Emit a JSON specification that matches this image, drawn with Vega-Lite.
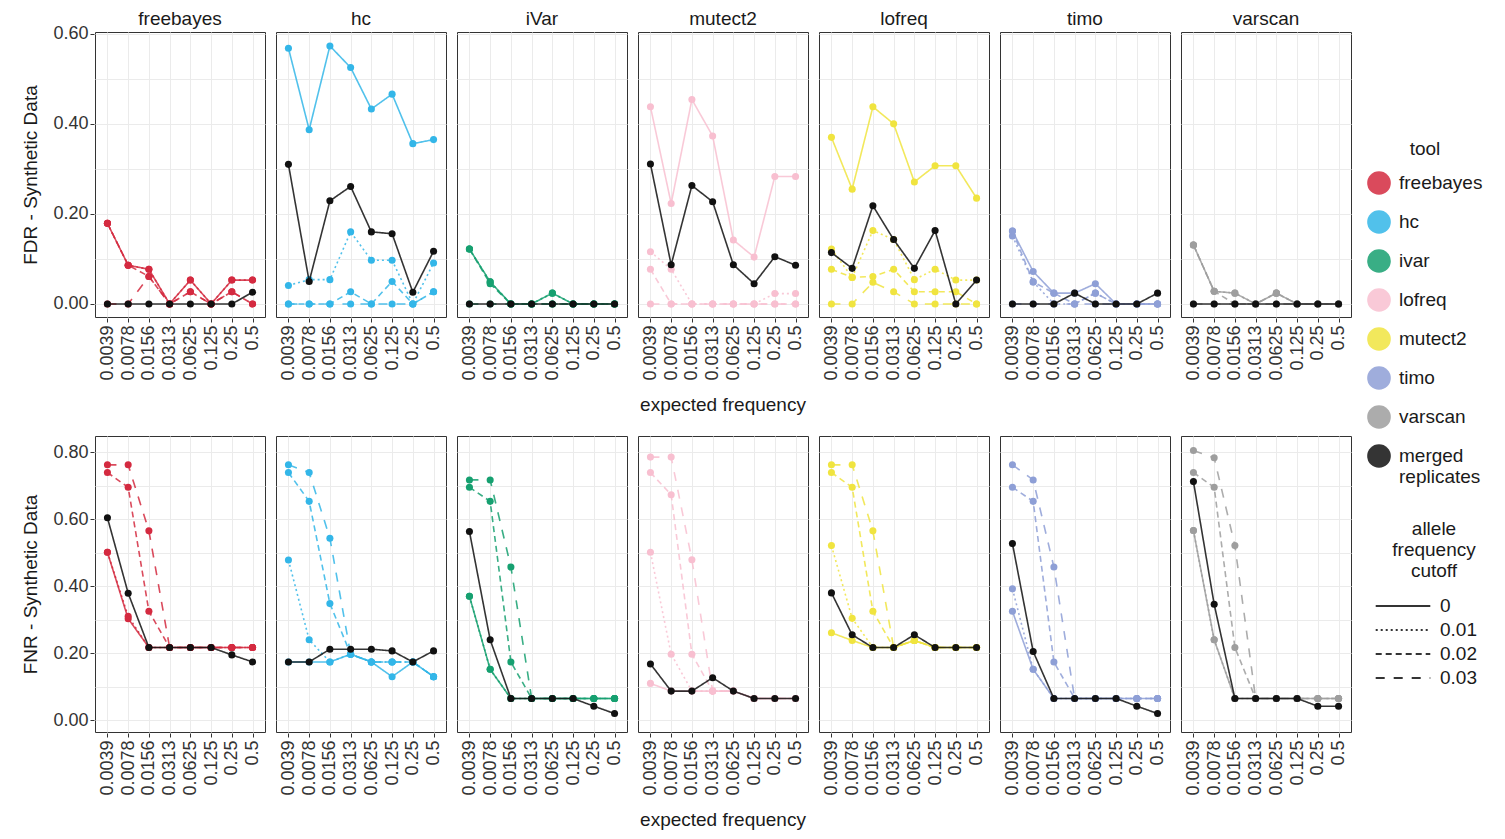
{
"$schema": "https://vega.github.io/schema/vega-lite/v6.json",
"padding": {"left": 21, "top": 10, "right": 5, "bottom": 5},
"background": "white",
"config": {
  "font": "Liberation Sans",
  "view": {"stroke": "#333333", "strokeWidth": 1},
  "axis": {"grid": true, "gridColor": "#ebebeb", "gridWidth": 1, "domain": false, "labelFontSize": 18, "labelColor": "#333333", "titleFontSize": 19, "titleFontWeight": "normal", "titleColor": "#1a1a1a", "tickColor": "#333333", "tickSize": 4},
  "header": {"labelFontSize": 19, "labelColor": "#1a1a1a", "titleFontSize": 19, "titleFontWeight": "normal", "titleColor": "#1a1a1a"},
  "legend": {"labelFontSize": 19, "titleFontSize": 19, "titleFontWeight": "normal", "labelColor": "#1a1a1a", "titleColor": "#1a1a1a", "titleAnchor": "middle", "titleAlign": "center"}
},
"datasets": {
"fdr": [
{"p":"freebayes","t":"freebayes","c":"0","f":"0.0039","v":0.179},{"p":"freebayes","t":"freebayes","c":"0","f":"0.0078","v":0.086},{"p":"freebayes","t":"freebayes","c":"0","f":"0.0156","v":0.077},{"p":"freebayes","t":"freebayes","c":"0","f":"0.0313","v":0},{"p":"freebayes","t":"freebayes","c":"0","f":"0.0625","v":0.053},{"p":"freebayes","t":"freebayes","c":"0","f":"0.125","v":0},{"p":"freebayes","t":"freebayes","c":"0","f":"0.25","v":0.053},{"p":"freebayes","t":"freebayes","c":"0","f":"0.5","v":0.053},
{"p":"freebayes","t":"freebayes","c":"0.01","f":"0.0039","v":0.179},{"p":"freebayes","t":"freebayes","c":"0.01","f":"0.0078","v":0.086},{"p":"freebayes","t":"freebayes","c":"0.01","f":"0.0156","v":0.077},{"p":"freebayes","t":"freebayes","c":"0.01","f":"0.0313","v":0},{"p":"freebayes","t":"freebayes","c":"0.01","f":"0.0625","v":0.053},{"p":"freebayes","t":"freebayes","c":"0.01","f":"0.125","v":0},{"p":"freebayes","t":"freebayes","c":"0.01","f":"0.25","v":0.053},{"p":"freebayes","t":"freebayes","c":"0.01","f":"0.5","v":0.053},
{"p":"freebayes","t":"freebayes","c":"0.02","f":"0.0039","v":0.179},{"p":"freebayes","t":"freebayes","c":"0.02","f":"0.0078","v":0.086},{"p":"freebayes","t":"freebayes","c":"0.02","f":"0.0156","v":0.061},{"p":"freebayes","t":"freebayes","c":"0.02","f":"0.0313","v":0},{"p":"freebayes","t":"freebayes","c":"0.02","f":"0.0625","v":0.027},{"p":"freebayes","t":"freebayes","c":"0.02","f":"0.125","v":0},{"p":"freebayes","t":"freebayes","c":"0.02","f":"0.25","v":0.027},{"p":"freebayes","t":"freebayes","c":"0.02","f":"0.5","v":0},
{"p":"freebayes","t":"freebayes","c":"0.03","f":"0.0039","v":0},{"p":"freebayes","t":"freebayes","c":"0.03","f":"0.0078","v":0},{"p":"freebayes","t":"freebayes","c":"0.03","f":"0.0156","v":0.061},{"p":"freebayes","t":"freebayes","c":"0.03","f":"0.0313","v":0},{"p":"freebayes","t":"freebayes","c":"0.03","f":"0.0625","v":0.027},{"p":"freebayes","t":"freebayes","c":"0.03","f":"0.125","v":0},{"p":"freebayes","t":"freebayes","c":"0.03","f":"0.25","v":0.027},{"p":"freebayes","t":"freebayes","c":"0.03","f":"0.5","v":0},
{"p":"freebayes","t":"merged replicates","c":"0","f":"0.0039","v":0},{"p":"freebayes","t":"merged replicates","c":"0","f":"0.0078","v":0},{"p":"freebayes","t":"merged replicates","c":"0","f":"0.0156","v":0},{"p":"freebayes","t":"merged replicates","c":"0","f":"0.0313","v":0},{"p":"freebayes","t":"merged replicates","c":"0","f":"0.0625","v":0},{"p":"freebayes","t":"merged replicates","c":"0","f":"0.125","v":0},{"p":"freebayes","t":"merged replicates","c":"0","f":"0.25","v":0},{"p":"freebayes","t":"merged replicates","c":"0","f":"0.5","v":0.026},

{"p":"hc","t":"hc","c":"0","f":"0.0039","v":0.568},{"p":"hc","t":"hc","c":"0","f":"0.0078","v":0.387},{"p":"hc","t":"hc","c":"0","f":"0.0156","v":0.573},{"p":"hc","t":"hc","c":"0","f":"0.0313","v":0.525},{"p":"hc","t":"hc","c":"0","f":"0.0625","v":0.433},{"p":"hc","t":"hc","c":"0","f":"0.125","v":0.466},{"p":"hc","t":"hc","c":"0","f":"0.25","v":0.356},{"p":"hc","t":"hc","c":"0","f":"0.5","v":0.365},
{"p":"hc","t":"hc","c":"0.01","f":"0.0039","v":0.041},{"p":"hc","t":"hc","c":"0.01","f":"0.0078","v":0.054},{"p":"hc","t":"hc","c":"0.01","f":"0.0156","v":0.054},{"p":"hc","t":"hc","c":"0.01","f":"0.0313","v":0.16},{"p":"hc","t":"hc","c":"0.01","f":"0.0625","v":0.097},{"p":"hc","t":"hc","c":"0.01","f":"0.125","v":0.097},{"p":"hc","t":"hc","c":"0.01","f":"0.25","v":0},{"p":"hc","t":"hc","c":"0.01","f":"0.5","v":0.091},
{"p":"hc","t":"hc","c":"0.02","f":"0.0039","v":0},{"p":"hc","t":"hc","c":"0.02","f":"0.0078","v":0},{"p":"hc","t":"hc","c":"0.02","f":"0.0156","v":0},{"p":"hc","t":"hc","c":"0.02","f":"0.0313","v":0.027},{"p":"hc","t":"hc","c":"0.02","f":"0.0625","v":0},{"p":"hc","t":"hc","c":"0.02","f":"0.125","v":0.05},{"p":"hc","t":"hc","c":"0.02","f":"0.25","v":0},{"p":"hc","t":"hc","c":"0.02","f":"0.5","v":0.027},
{"p":"hc","t":"hc","c":"0.03","f":"0.0039","v":0},{"p":"hc","t":"hc","c":"0.03","f":"0.0078","v":0},{"p":"hc","t":"hc","c":"0.03","f":"0.0156","v":0},{"p":"hc","t":"hc","c":"0.03","f":"0.0313","v":0},{"p":"hc","t":"hc","c":"0.03","f":"0.0625","v":0},{"p":"hc","t":"hc","c":"0.03","f":"0.125","v":0},{"p":"hc","t":"hc","c":"0.03","f":"0.25","v":0},{"p":"hc","t":"hc","c":"0.03","f":"0.5","v":0.027},
{"p":"hc","t":"merged replicates","c":"0","f":"0.0039","v":0.31},{"p":"hc","t":"merged replicates","c":"0","f":"0.0078","v":0.05},{"p":"hc","t":"merged replicates","c":"0","f":"0.0156","v":0.229},{"p":"hc","t":"merged replicates","c":"0","f":"0.0313","v":0.261},{"p":"hc","t":"merged replicates","c":"0","f":"0.0625","v":0.16},{"p":"hc","t":"merged replicates","c":"0","f":"0.125","v":0.156},{"p":"hc","t":"merged replicates","c":"0","f":"0.25","v":0.026},{"p":"hc","t":"merged replicates","c":"0","f":"0.5","v":0.117},

{"p":"iVar","t":"ivar","c":"0","f":"0.0039","v":0.122},{"p":"iVar","t":"ivar","c":"0","f":"0.0078","v":0.049},{"p":"iVar","t":"ivar","c":"0","f":"0.0156","v":0},{"p":"iVar","t":"ivar","c":"0","f":"0.0313","v":0},{"p":"iVar","t":"ivar","c":"0","f":"0.0625","v":0.024},{"p":"iVar","t":"ivar","c":"0","f":"0.125","v":0},{"p":"iVar","t":"ivar","c":"0","f":"0.25","v":0},{"p":"iVar","t":"ivar","c":"0","f":"0.5","v":0},
{"p":"iVar","t":"ivar","c":"0.01","f":"0.0039","v":0.122},{"p":"iVar","t":"ivar","c":"0.01","f":"0.0078","v":0.049},{"p":"iVar","t":"ivar","c":"0.01","f":"0.0156","v":0},{"p":"iVar","t":"ivar","c":"0.01","f":"0.0313","v":0},{"p":"iVar","t":"ivar","c":"0.01","f":"0.0625","v":0.024},{"p":"iVar","t":"ivar","c":"0.01","f":"0.125","v":0},{"p":"iVar","t":"ivar","c":"0.01","f":"0.25","v":0},{"p":"iVar","t":"ivar","c":"0.01","f":"0.5","v":0},
{"p":"iVar","t":"ivar","c":"0.02","f":"0.0039","v":0.122},{"p":"iVar","t":"ivar","c":"0.02","f":"0.0078","v":0.045},{"p":"iVar","t":"ivar","c":"0.02","f":"0.0156","v":0},{"p":"iVar","t":"ivar","c":"0.02","f":"0.0313","v":0},{"p":"iVar","t":"ivar","c":"0.02","f":"0.0625","v":0},{"p":"iVar","t":"ivar","c":"0.02","f":"0.125","v":0},{"p":"iVar","t":"ivar","c":"0.02","f":"0.25","v":0},{"p":"iVar","t":"ivar","c":"0.02","f":"0.5","v":0},
{"p":"iVar","t":"ivar","c":"0.03","f":"0.0039","v":0},{"p":"iVar","t":"ivar","c":"0.03","f":"0.0078","v":0},{"p":"iVar","t":"ivar","c":"0.03","f":"0.0156","v":0},{"p":"iVar","t":"ivar","c":"0.03","f":"0.0313","v":0},{"p":"iVar","t":"ivar","c":"0.03","f":"0.0625","v":0},{"p":"iVar","t":"ivar","c":"0.03","f":"0.125","v":0},{"p":"iVar","t":"ivar","c":"0.03","f":"0.25","v":0},{"p":"iVar","t":"ivar","c":"0.03","f":"0.5","v":0},
{"p":"iVar","t":"merged replicates","c":"0","f":"0.0039","v":0},{"p":"iVar","t":"merged replicates","c":"0","f":"0.0078","v":0},{"p":"iVar","t":"merged replicates","c":"0","f":"0.0156","v":0},{"p":"iVar","t":"merged replicates","c":"0","f":"0.0313","v":0},{"p":"iVar","t":"merged replicates","c":"0","f":"0.0625","v":0},{"p":"iVar","t":"merged replicates","c":"0","f":"0.125","v":0},{"p":"iVar","t":"merged replicates","c":"0","f":"0.25","v":0},{"p":"iVar","t":"merged replicates","c":"0","f":"0.5","v":0},

{"p":"mutect2","t":"lofreq","c":"0","f":"0.0039","v":0.438},{"p":"mutect2","t":"lofreq","c":"0","f":"0.0078","v":0.223},{"p":"mutect2","t":"lofreq","c":"0","f":"0.0156","v":0.454},{"p":"mutect2","t":"lofreq","c":"0","f":"0.0313","v":0.373},{"p":"mutect2","t":"lofreq","c":"0","f":"0.0625","v":0.142},{"p":"mutect2","t":"lofreq","c":"0","f":"0.125","v":0.104},{"p":"mutect2","t":"lofreq","c":"0","f":"0.25","v":0.283},{"p":"mutect2","t":"lofreq","c":"0","f":"0.5","v":0.283},
{"p":"mutect2","t":"lofreq","c":"0.01","f":"0.0039","v":0.116},{"p":"mutect2","t":"lofreq","c":"0.01","f":"0.0078","v":0.077},{"p":"mutect2","t":"lofreq","c":"0.01","f":"0.0156","v":0},{"p":"mutect2","t":"lofreq","c":"0.01","f":"0.0313","v":0},{"p":"mutect2","t":"lofreq","c":"0.01","f":"0.0625","v":0},{"p":"mutect2","t":"lofreq","c":"0.01","f":"0.125","v":0},{"p":"mutect2","t":"lofreq","c":"0.01","f":"0.25","v":0.023},{"p":"mutect2","t":"lofreq","c":"0.01","f":"0.5","v":0.023},
{"p":"mutect2","t":"lofreq","c":"0.02","f":"0.0039","v":0.077},{"p":"mutect2","t":"lofreq","c":"0.02","f":"0.0078","v":0},{"p":"mutect2","t":"lofreq","c":"0.02","f":"0.0156","v":0},{"p":"mutect2","t":"lofreq","c":"0.02","f":"0.0313","v":0},{"p":"mutect2","t":"lofreq","c":"0.02","f":"0.0625","v":0},{"p":"mutect2","t":"lofreq","c":"0.02","f":"0.125","v":0},{"p":"mutect2","t":"lofreq","c":"0.02","f":"0.25","v":0},{"p":"mutect2","t":"lofreq","c":"0.02","f":"0.5","v":0},
{"p":"mutect2","t":"lofreq","c":"0.03","f":"0.0039","v":0},{"p":"mutect2","t":"lofreq","c":"0.03","f":"0.0078","v":0},{"p":"mutect2","t":"lofreq","c":"0.03","f":"0.0156","v":0},{"p":"mutect2","t":"lofreq","c":"0.03","f":"0.0313","v":0},{"p":"mutect2","t":"lofreq","c":"0.03","f":"0.0625","v":0},{"p":"mutect2","t":"lofreq","c":"0.03","f":"0.125","v":0},{"p":"mutect2","t":"lofreq","c":"0.03","f":"0.25","v":0},{"p":"mutect2","t":"lofreq","c":"0.03","f":"0.5","v":0},
{"p":"mutect2","t":"merged replicates","c":"0","f":"0.0039","v":0.311},{"p":"mutect2","t":"merged replicates","c":"0","f":"0.0078","v":0.087},{"p":"mutect2","t":"merged replicates","c":"0","f":"0.0156","v":0.263},{"p":"mutect2","t":"merged replicates","c":"0","f":"0.0313","v":0.227},{"p":"mutect2","t":"merged replicates","c":"0","f":"0.0625","v":0.087},{"p":"mutect2","t":"merged replicates","c":"0","f":"0.125","v":0.045},{"p":"mutect2","t":"merged replicates","c":"0","f":"0.25","v":0.105},{"p":"mutect2","t":"merged replicates","c":"0","f":"0.5","v":0.086},

{"p":"lofreq","t":"mutect2","c":"0","f":"0.0039","v":0.37},{"p":"lofreq","t":"mutect2","c":"0","f":"0.0078","v":0.255},{"p":"lofreq","t":"mutect2","c":"0","f":"0.0156","v":0.438},{"p":"lofreq","t":"mutect2","c":"0","f":"0.0313","v":0.4},{"p":"lofreq","t":"mutect2","c":"0","f":"0.0625","v":0.271},{"p":"lofreq","t":"mutect2","c":"0","f":"0.125","v":0.307},{"p":"lofreq","t":"mutect2","c":"0","f":"0.25","v":0.307},{"p":"lofreq","t":"mutect2","c":"0","f":"0.5","v":0.235},
{"p":"lofreq","t":"mutect2","c":"0.01","f":"0.0039","v":0.122},{"p":"lofreq","t":"mutect2","c":"0.01","f":"0.0078","v":0.059},{"p":"lofreq","t":"mutect2","c":"0.01","f":"0.0156","v":0.163},{"p":"lofreq","t":"mutect2","c":"0.01","f":"0.0313","v":0.143},{"p":"lofreq","t":"mutect2","c":"0.01","f":"0.0625","v":0.054},{"p":"lofreq","t":"mutect2","c":"0.01","f":"0.125","v":0.077},{"p":"lofreq","t":"mutect2","c":"0.01","f":"0.25","v":0.053},{"p":"lofreq","t":"mutect2","c":"0.01","f":"0.5","v":0.053},
{"p":"lofreq","t":"mutect2","c":"0.02","f":"0.0039","v":0.077},{"p":"lofreq","t":"mutect2","c":"0.02","f":"0.0078","v":0.059},{"p":"lofreq","t":"mutect2","c":"0.02","f":"0.0156","v":0.061},{"p":"lofreq","t":"mutect2","c":"0.02","f":"0.0313","v":0.077},{"p":"lofreq","t":"mutect2","c":"0.02","f":"0.0625","v":0.027},{"p":"lofreq","t":"mutect2","c":"0.02","f":"0.125","v":0.027},{"p":"lofreq","t":"mutect2","c":"0.02","f":"0.25","v":0.027},{"p":"lofreq","t":"mutect2","c":"0.02","f":"0.5","v":0},
{"p":"lofreq","t":"mutect2","c":"0.03","f":"0.0039","v":0},{"p":"lofreq","t":"mutect2","c":"0.03","f":"0.0078","v":0},{"p":"lofreq","t":"mutect2","c":"0.03","f":"0.0156","v":0.048},{"p":"lofreq","t":"mutect2","c":"0.03","f":"0.0313","v":0.027},{"p":"lofreq","t":"mutect2","c":"0.03","f":"0.0625","v":0},{"p":"lofreq","t":"mutect2","c":"0.03","f":"0.125","v":0},{"p":"lofreq","t":"mutect2","c":"0.03","f":"0.25","v":0},{"p":"lofreq","t":"mutect2","c":"0.03","f":"0.5","v":0},
{"p":"lofreq","t":"merged replicates","c":"0","f":"0.0039","v":0.114},{"p":"lofreq","t":"merged replicates","c":"0","f":"0.0078","v":0.079},{"p":"lofreq","t":"merged replicates","c":"0","f":"0.0156","v":0.218},{"p":"lofreq","t":"merged replicates","c":"0","f":"0.0313","v":0.143},{"p":"lofreq","t":"merged replicates","c":"0","f":"0.0625","v":0.079},{"p":"lofreq","t":"merged replicates","c":"0","f":"0.125","v":0.163},{"p":"lofreq","t":"merged replicates","c":"0","f":"0.25","v":0},{"p":"lofreq","t":"merged replicates","c":"0","f":"0.5","v":0.053},

{"p":"timo","t":"timo","c":"0","f":"0.0039","v":0.162},{"p":"timo","t":"timo","c":"0","f":"0.0078","v":0.072},{"p":"timo","t":"timo","c":"0","f":"0.0156","v":0.024},{"p":"timo","t":"timo","c":"0","f":"0.0313","v":0.024},{"p":"timo","t":"timo","c":"0","f":"0.0625","v":0.045},{"p":"timo","t":"timo","c":"0","f":"0.125","v":0},{"p":"timo","t":"timo","c":"0","f":"0.25","v":0},{"p":"timo","t":"timo","c":"0","f":"0.5","v":0},
{"p":"timo","t":"timo","c":"0.01","f":"0.0039","v":0.151},{"p":"timo","t":"timo","c":"0.01","f":"0.0078","v":0.049},{"p":"timo","t":"timo","c":"0.01","f":"0.0156","v":0},{"p":"timo","t":"timo","c":"0.01","f":"0.0313","v":0},{"p":"timo","t":"timo","c":"0.01","f":"0.0625","v":0.024},{"p":"timo","t":"timo","c":"0.01","f":"0.125","v":0},{"p":"timo","t":"timo","c":"0.01","f":"0.25","v":0},{"p":"timo","t":"timo","c":"0.01","f":"0.5","v":0},
{"p":"timo","t":"timo","c":"0.02","f":"0.0039","v":0.162},{"p":"timo","t":"timo","c":"0.02","f":"0.0078","v":0.049},{"p":"timo","t":"timo","c":"0.02","f":"0.0156","v":0.024},{"p":"timo","t":"timo","c":"0.02","f":"0.0313","v":0},{"p":"timo","t":"timo","c":"0.02","f":"0.0625","v":0.024},{"p":"timo","t":"timo","c":"0.02","f":"0.125","v":0},{"p":"timo","t":"timo","c":"0.02","f":"0.25","v":0},{"p":"timo","t":"timo","c":"0.02","f":"0.5","v":0},
{"p":"timo","t":"timo","c":"0.03","f":"0.0039","v":0},{"p":"timo","t":"timo","c":"0.03","f":"0.0078","v":0},{"p":"timo","t":"timo","c":"0.03","f":"0.0156","v":0},{"p":"timo","t":"timo","c":"0.03","f":"0.0313","v":0},{"p":"timo","t":"timo","c":"0.03","f":"0.0625","v":0},{"p":"timo","t":"timo","c":"0.03","f":"0.125","v":0},{"p":"timo","t":"timo","c":"0.03","f":"0.25","v":0},{"p":"timo","t":"timo","c":"0.03","f":"0.5","v":0},
{"p":"timo","t":"merged replicates","c":"0","f":"0.0039","v":0},{"p":"timo","t":"merged replicates","c":"0","f":"0.0078","v":0},{"p":"timo","t":"merged replicates","c":"0","f":"0.0156","v":0},{"p":"timo","t":"merged replicates","c":"0","f":"0.0313","v":0.024},{"p":"timo","t":"merged replicates","c":"0","f":"0.0625","v":0},{"p":"timo","t":"merged replicates","c":"0","f":"0.125","v":0},{"p":"timo","t":"merged replicates","c":"0","f":"0.25","v":0},{"p":"timo","t":"merged replicates","c":"0","f":"0.5","v":0.024},

{"p":"varscan","t":"varscan","c":"0","f":"0.0039","v":0.131},{"p":"varscan","t":"varscan","c":"0","f":"0.0078","v":0.028},{"p":"varscan","t":"varscan","c":"0","f":"0.0156","v":0.024},{"p":"varscan","t":"varscan","c":"0","f":"0.0313","v":0},{"p":"varscan","t":"varscan","c":"0","f":"0.0625","v":0.024},{"p":"varscan","t":"varscan","c":"0","f":"0.125","v":0},{"p":"varscan","t":"varscan","c":"0","f":"0.25","v":0},{"p":"varscan","t":"varscan","c":"0","f":"0.5","v":0},
{"p":"varscan","t":"varscan","c":"0.01","f":"0.0039","v":0.131},{"p":"varscan","t":"varscan","c":"0.01","f":"0.0078","v":0.028},{"p":"varscan","t":"varscan","c":"0.01","f":"0.0156","v":0.024},{"p":"varscan","t":"varscan","c":"0.01","f":"0.0313","v":0},{"p":"varscan","t":"varscan","c":"0.01","f":"0.0625","v":0.024},{"p":"varscan","t":"varscan","c":"0.01","f":"0.125","v":0},{"p":"varscan","t":"varscan","c":"0.01","f":"0.25","v":0},{"p":"varscan","t":"varscan","c":"0.01","f":"0.5","v":0},
{"p":"varscan","t":"varscan","c":"0.02","f":"0.0039","v":0.131},{"p":"varscan","t":"varscan","c":"0.02","f":"0.0078","v":0.028},{"p":"varscan","t":"varscan","c":"0.02","f":"0.0156","v":0},{"p":"varscan","t":"varscan","c":"0.02","f":"0.0313","v":0},{"p":"varscan","t":"varscan","c":"0.02","f":"0.0625","v":0.024},{"p":"varscan","t":"varscan","c":"0.02","f":"0.125","v":0},{"p":"varscan","t":"varscan","c":"0.02","f":"0.25","v":0},{"p":"varscan","t":"varscan","c":"0.02","f":"0.5","v":0},
{"p":"varscan","t":"varscan","c":"0.03","f":"0.0039","v":0},{"p":"varscan","t":"varscan","c":"0.03","f":"0.0078","v":0},{"p":"varscan","t":"varscan","c":"0.03","f":"0.0156","v":0},{"p":"varscan","t":"varscan","c":"0.03","f":"0.0313","v":0},{"p":"varscan","t":"varscan","c":"0.03","f":"0.0625","v":0},{"p":"varscan","t":"varscan","c":"0.03","f":"0.125","v":0},{"p":"varscan","t":"varscan","c":"0.03","f":"0.25","v":0},{"p":"varscan","t":"varscan","c":"0.03","f":"0.5","v":0},
{"p":"varscan","t":"merged replicates","c":"0","f":"0.0039","v":0},{"p":"varscan","t":"merged replicates","c":"0","f":"0.0078","v":0},{"p":"varscan","t":"merged replicates","c":"0","f":"0.0156","v":0},{"p":"varscan","t":"merged replicates","c":"0","f":"0.0313","v":0},{"p":"varscan","t":"merged replicates","c":"0","f":"0.0625","v":0},{"p":"varscan","t":"merged replicates","c":"0","f":"0.125","v":0},{"p":"varscan","t":"merged replicates","c":"0","f":"0.25","v":0},{"p":"varscan","t":"merged replicates","c":"0","f":"0.5","v":0}
],
"fnr": [
{"p":"freebayes","t":"freebayes","c":"0","f":"0.0039","v":0.501},{"p":"freebayes","t":"freebayes","c":"0","f":"0.0078","v":0.303},{"p":"freebayes","t":"freebayes","c":"0","f":"0.0156","v":0.217},{"p":"freebayes","t":"freebayes","c":"0","f":"0.0313","v":0.217},{"p":"freebayes","t":"freebayes","c":"0","f":"0.0625","v":0.217},{"p":"freebayes","t":"freebayes","c":"0","f":"0.125","v":0.217},{"p":"freebayes","t":"freebayes","c":"0","f":"0.25","v":0.217},{"p":"freebayes","t":"freebayes","c":"0","f":"0.5","v":0.217},
{"p":"freebayes","t":"freebayes","c":"0.01","f":"0.0039","v":0.501},{"p":"freebayes","t":"freebayes","c":"0.01","f":"0.0078","v":0.31},{"p":"freebayes","t":"freebayes","c":"0.01","f":"0.0156","v":0.217},{"p":"freebayes","t":"freebayes","c":"0.01","f":"0.0313","v":0.217},{"p":"freebayes","t":"freebayes","c":"0.01","f":"0.0625","v":0.217},{"p":"freebayes","t":"freebayes","c":"0.01","f":"0.125","v":0.217},{"p":"freebayes","t":"freebayes","c":"0.01","f":"0.25","v":0.217},{"p":"freebayes","t":"freebayes","c":"0.01","f":"0.5","v":0.217},
{"p":"freebayes","t":"freebayes","c":"0.02","f":"0.0039","v":0.739},{"p":"freebayes","t":"freebayes","c":"0.02","f":"0.0078","v":0.695},{"p":"freebayes","t":"freebayes","c":"0.02","f":"0.0156","v":0.325},{"p":"freebayes","t":"freebayes","c":"0.02","f":"0.0313","v":0.217},{"p":"freebayes","t":"freebayes","c":"0.02","f":"0.0625","v":0.217},{"p":"freebayes","t":"freebayes","c":"0.02","f":"0.125","v":0.217},{"p":"freebayes","t":"freebayes","c":"0.02","f":"0.25","v":0.217},{"p":"freebayes","t":"freebayes","c":"0.02","f":"0.5","v":0.217},
{"p":"freebayes","t":"freebayes","c":"0.03","f":"0.0039","v":0.762},{"p":"freebayes","t":"freebayes","c":"0.03","f":"0.0078","v":0.762},{"p":"freebayes","t":"freebayes","c":"0.03","f":"0.0156","v":0.565},{"p":"freebayes","t":"freebayes","c":"0.03","f":"0.0313","v":0.217},{"p":"freebayes","t":"freebayes","c":"0.03","f":"0.0625","v":0.217},{"p":"freebayes","t":"freebayes","c":"0.03","f":"0.125","v":0.217},{"p":"freebayes","t":"freebayes","c":"0.03","f":"0.25","v":0.217},{"p":"freebayes","t":"freebayes","c":"0.03","f":"0.5","v":0.217},
{"p":"freebayes","t":"merged replicates","c":"0","f":"0.0039","v":0.604},{"p":"freebayes","t":"merged replicates","c":"0","f":"0.0078","v":0.379},{"p":"freebayes","t":"merged replicates","c":"0","f":"0.0156","v":0.217},{"p":"freebayes","t":"merged replicates","c":"0","f":"0.0313","v":0.217},{"p":"freebayes","t":"merged replicates","c":"0","f":"0.0625","v":0.217},{"p":"freebayes","t":"merged replicates","c":"0","f":"0.125","v":0.217},{"p":"freebayes","t":"merged replicates","c":"0","f":"0.25","v":0.195},{"p":"freebayes","t":"merged replicates","c":"0","f":"0.5","v":0.174},

{"p":"hc","t":"hc","c":"0","f":"0.0039","v":0.174},{"p":"hc","t":"hc","c":"0","f":"0.0078","v":0.174},{"p":"hc","t":"hc","c":"0","f":"0.0156","v":0.174},{"p":"hc","t":"hc","c":"0","f":"0.0313","v":0.197},{"p":"hc","t":"hc","c":"0","f":"0.0625","v":0.174},{"p":"hc","t":"hc","c":"0","f":"0.125","v":0.13},{"p":"hc","t":"hc","c":"0","f":"0.25","v":0.174},{"p":"hc","t":"hc","c":"0","f":"0.5","v":0.13},
{"p":"hc","t":"hc","c":"0.01","f":"0.0039","v":0.478},{"p":"hc","t":"hc","c":"0.01","f":"0.0078","v":0.24},{"p":"hc","t":"hc","c":"0.01","f":"0.0156","v":0.174},{"p":"hc","t":"hc","c":"0.01","f":"0.0313","v":0.197},{"p":"hc","t":"hc","c":"0.01","f":"0.0625","v":0.174},{"p":"hc","t":"hc","c":"0.01","f":"0.125","v":0.174},{"p":"hc","t":"hc","c":"0.01","f":"0.25","v":0.174},{"p":"hc","t":"hc","c":"0.01","f":"0.5","v":0.13},
{"p":"hc","t":"hc","c":"0.02","f":"0.0039","v":0.739},{"p":"hc","t":"hc","c":"0.02","f":"0.0078","v":0.653},{"p":"hc","t":"hc","c":"0.02","f":"0.0156","v":0.348},{"p":"hc","t":"hc","c":"0.02","f":"0.0313","v":0.197},{"p":"hc","t":"hc","c":"0.02","f":"0.0625","v":0.174},{"p":"hc","t":"hc","c":"0.02","f":"0.125","v":0.174},{"p":"hc","t":"hc","c":"0.02","f":"0.25","v":0.174},{"p":"hc","t":"hc","c":"0.02","f":"0.5","v":0.13},
{"p":"hc","t":"hc","c":"0.03","f":"0.0039","v":0.762},{"p":"hc","t":"hc","c":"0.03","f":"0.0078","v":0.739},{"p":"hc","t":"hc","c":"0.03","f":"0.0156","v":0.543},{"p":"hc","t":"hc","c":"0.03","f":"0.0313","v":0.197},{"p":"hc","t":"hc","c":"0.03","f":"0.0625","v":0.174},{"p":"hc","t":"hc","c":"0.03","f":"0.125","v":0.174},{"p":"hc","t":"hc","c":"0.03","f":"0.25","v":0.174},{"p":"hc","t":"hc","c":"0.03","f":"0.5","v":0.13},
{"p":"hc","t":"merged replicates","c":"0","f":"0.0039","v":0.174},{"p":"hc","t":"merged replicates","c":"0","f":"0.0078","v":0.174},{"p":"hc","t":"merged replicates","c":"0","f":"0.0156","v":0.212},{"p":"hc","t":"merged replicates","c":"0","f":"0.0313","v":0.212},{"p":"hc","t":"merged replicates","c":"0","f":"0.0625","v":0.212},{"p":"hc","t":"merged replicates","c":"0","f":"0.125","v":0.207},{"p":"hc","t":"merged replicates","c":"0","f":"0.25","v":0.174},{"p":"hc","t":"merged replicates","c":"0","f":"0.5","v":0.207},

{"p":"iVar","t":"ivar","c":"0","f":"0.0039","v":0.37},{"p":"iVar","t":"ivar","c":"0","f":"0.0078","v":0.152},{"p":"iVar","t":"ivar","c":"0","f":"0.0156","v":0.065},{"p":"iVar","t":"ivar","c":"0","f":"0.0313","v":0.065},{"p":"iVar","t":"ivar","c":"0","f":"0.0625","v":0.065},{"p":"iVar","t":"ivar","c":"0","f":"0.125","v":0.065},{"p":"iVar","t":"ivar","c":"0","f":"0.25","v":0.065},{"p":"iVar","t":"ivar","c":"0","f":"0.5","v":0.065},
{"p":"iVar","t":"ivar","c":"0.01","f":"0.0039","v":0.37},{"p":"iVar","t":"ivar","c":"0.01","f":"0.0078","v":0.152},{"p":"iVar","t":"ivar","c":"0.01","f":"0.0156","v":0.065},{"p":"iVar","t":"ivar","c":"0.01","f":"0.0313","v":0.065},{"p":"iVar","t":"ivar","c":"0.01","f":"0.0625","v":0.065},{"p":"iVar","t":"ivar","c":"0.01","f":"0.125","v":0.065},{"p":"iVar","t":"ivar","c":"0.01","f":"0.25","v":0.065},{"p":"iVar","t":"ivar","c":"0.01","f":"0.5","v":0.065},
{"p":"iVar","t":"ivar","c":"0.02","f":"0.0039","v":0.695},{"p":"iVar","t":"ivar","c":"0.02","f":"0.0078","v":0.653},{"p":"iVar","t":"ivar","c":"0.02","f":"0.0156","v":0.174},{"p":"iVar","t":"ivar","c":"0.02","f":"0.0313","v":0.065},{"p":"iVar","t":"ivar","c":"0.02","f":"0.0625","v":0.065},{"p":"iVar","t":"ivar","c":"0.02","f":"0.125","v":0.065},{"p":"iVar","t":"ivar","c":"0.02","f":"0.25","v":0.065},{"p":"iVar","t":"ivar","c":"0.02","f":"0.5","v":0.065},
{"p":"iVar","t":"ivar","c":"0.03","f":"0.0039","v":0.717},{"p":"iVar","t":"ivar","c":"0.03","f":"0.0078","v":0.717},{"p":"iVar","t":"ivar","c":"0.03","f":"0.0156","v":0.457},{"p":"iVar","t":"ivar","c":"0.03","f":"0.0313","v":0.065},{"p":"iVar","t":"ivar","c":"0.03","f":"0.0625","v":0.065},{"p":"iVar","t":"ivar","c":"0.03","f":"0.125","v":0.065},{"p":"iVar","t":"ivar","c":"0.03","f":"0.25","v":0.065},{"p":"iVar","t":"ivar","c":"0.03","f":"0.5","v":0.065},
{"p":"iVar","t":"merged replicates","c":"0","f":"0.0039","v":0.563},{"p":"iVar","t":"merged replicates","c":"0","f":"0.0078","v":0.24},{"p":"iVar","t":"merged replicates","c":"0","f":"0.0156","v":0.065},{"p":"iVar","t":"merged replicates","c":"0","f":"0.0313","v":0.065},{"p":"iVar","t":"merged replicates","c":"0","f":"0.0625","v":0.065},{"p":"iVar","t":"merged replicates","c":"0","f":"0.125","v":0.065},{"p":"iVar","t":"merged replicates","c":"0","f":"0.25","v":0.042},{"p":"iVar","t":"merged replicates","c":"0","f":"0.5","v":0.02},

{"p":"mutect2","t":"lofreq","c":"0","f":"0.0039","v":0.11},{"p":"mutect2","t":"lofreq","c":"0","f":"0.0078","v":0.087},{"p":"mutect2","t":"lofreq","c":"0","f":"0.0156","v":0.087},{"p":"mutect2","t":"lofreq","c":"0","f":"0.0313","v":0.087},{"p":"mutect2","t":"lofreq","c":"0","f":"0.0625","v":0.087},{"p":"mutect2","t":"lofreq","c":"0","f":"0.125","v":0.065},{"p":"mutect2","t":"lofreq","c":"0","f":"0.25","v":0.065},{"p":"mutect2","t":"lofreq","c":"0","f":"0.5","v":0.065},
{"p":"mutect2","t":"lofreq","c":"0.01","f":"0.0039","v":0.501},{"p":"mutect2","t":"lofreq","c":"0.01","f":"0.0078","v":0.197},{"p":"mutect2","t":"lofreq","c":"0.01","f":"0.0156","v":0.087},{"p":"mutect2","t":"lofreq","c":"0.01","f":"0.0313","v":0.087},{"p":"mutect2","t":"lofreq","c":"0.01","f":"0.0625","v":0.087},{"p":"mutect2","t":"lofreq","c":"0.01","f":"0.125","v":0.065},{"p":"mutect2","t":"lofreq","c":"0.01","f":"0.25","v":0.065},{"p":"mutect2","t":"lofreq","c":"0.01","f":"0.5","v":0.065},
{"p":"mutect2","t":"lofreq","c":"0.02","f":"0.0039","v":0.739},{"p":"mutect2","t":"lofreq","c":"0.02","f":"0.0078","v":0.673},{"p":"mutect2","t":"lofreq","c":"0.02","f":"0.0156","v":0.197},{"p":"mutect2","t":"lofreq","c":"0.02","f":"0.0313","v":0.087},{"p":"mutect2","t":"lofreq","c":"0.02","f":"0.0625","v":0.087},{"p":"mutect2","t":"lofreq","c":"0.02","f":"0.125","v":0.065},{"p":"mutect2","t":"lofreq","c":"0.02","f":"0.25","v":0.065},{"p":"mutect2","t":"lofreq","c":"0.02","f":"0.5","v":0.065},
{"p":"mutect2","t":"lofreq","c":"0.03","f":"0.0039","v":0.785},{"p":"mutect2","t":"lofreq","c":"0.03","f":"0.0078","v":0.785},{"p":"mutect2","t":"lofreq","c":"0.03","f":"0.0156","v":0.479},{"p":"mutect2","t":"lofreq","c":"0.03","f":"0.0313","v":0.087},{"p":"mutect2","t":"lofreq","c":"0.03","f":"0.0625","v":0.087},{"p":"mutect2","t":"lofreq","c":"0.03","f":"0.125","v":0.065},{"p":"mutect2","t":"lofreq","c":"0.03","f":"0.25","v":0.065},{"p":"mutect2","t":"lofreq","c":"0.03","f":"0.5","v":0.065},
{"p":"mutect2","t":"merged replicates","c":"0","f":"0.0039","v":0.168},{"p":"mutect2","t":"merged replicates","c":"0","f":"0.0078","v":0.087},{"p":"mutect2","t":"merged replicates","c":"0","f":"0.0156","v":0.087},{"p":"mutect2","t":"merged replicates","c":"0","f":"0.0313","v":0.127},{"p":"mutect2","t":"merged replicates","c":"0","f":"0.0625","v":0.087},{"p":"mutect2","t":"merged replicates","c":"0","f":"0.125","v":0.065},{"p":"mutect2","t":"merged replicates","c":"0","f":"0.25","v":0.065},{"p":"mutect2","t":"merged replicates","c":"0","f":"0.5","v":0.065},

{"p":"lofreq","t":"mutect2","c":"0","f":"0.0039","v":0.261},{"p":"lofreq","t":"mutect2","c":"0","f":"0.0078","v":0.238},{"p":"lofreq","t":"mutect2","c":"0","f":"0.0156","v":0.217},{"p":"lofreq","t":"mutect2","c":"0","f":"0.0313","v":0.217},{"p":"lofreq","t":"mutect2","c":"0","f":"0.0625","v":0.238},{"p":"lofreq","t":"mutect2","c":"0","f":"0.125","v":0.217},{"p":"lofreq","t":"mutect2","c":"0","f":"0.25","v":0.217},{"p":"lofreq","t":"mutect2","c":"0","f":"0.5","v":0.217},
{"p":"lofreq","t":"mutect2","c":"0.01","f":"0.0039","v":0.521},{"p":"lofreq","t":"mutect2","c":"0.01","f":"0.0078","v":0.304},{"p":"lofreq","t":"mutect2","c":"0.01","f":"0.0156","v":0.217},{"p":"lofreq","t":"mutect2","c":"0.01","f":"0.0313","v":0.217},{"p":"lofreq","t":"mutect2","c":"0.01","f":"0.0625","v":0.238},{"p":"lofreq","t":"mutect2","c":"0.01","f":"0.125","v":0.217},{"p":"lofreq","t":"mutect2","c":"0.01","f":"0.25","v":0.217},{"p":"lofreq","t":"mutect2","c":"0.01","f":"0.5","v":0.217},
{"p":"lofreq","t":"mutect2","c":"0.02","f":"0.0039","v":0.739},{"p":"lofreq","t":"mutect2","c":"0.02","f":"0.0078","v":0.695},{"p":"lofreq","t":"mutect2","c":"0.02","f":"0.0156","v":0.325},{"p":"lofreq","t":"mutect2","c":"0.02","f":"0.0313","v":0.217},{"p":"lofreq","t":"mutect2","c":"0.02","f":"0.0625","v":0.238},{"p":"lofreq","t":"mutect2","c":"0.02","f":"0.125","v":0.217},{"p":"lofreq","t":"mutect2","c":"0.02","f":"0.25","v":0.217},{"p":"lofreq","t":"mutect2","c":"0.02","f":"0.5","v":0.217},
{"p":"lofreq","t":"mutect2","c":"0.03","f":"0.0039","v":0.762},{"p":"lofreq","t":"mutect2","c":"0.03","f":"0.0078","v":0.762},{"p":"lofreq","t":"mutect2","c":"0.03","f":"0.0156","v":0.565},{"p":"lofreq","t":"mutect2","c":"0.03","f":"0.0313","v":0.217},{"p":"lofreq","t":"mutect2","c":"0.03","f":"0.0625","v":0.238},{"p":"lofreq","t":"mutect2","c":"0.03","f":"0.125","v":0.217},{"p":"lofreq","t":"mutect2","c":"0.03","f":"0.25","v":0.217},{"p":"lofreq","t":"mutect2","c":"0.03","f":"0.5","v":0.217},
{"p":"lofreq","t":"merged replicates","c":"0","f":"0.0039","v":0.38},{"p":"lofreq","t":"merged replicates","c":"0","f":"0.0078","v":0.255},{"p":"lofreq","t":"merged replicates","c":"0","f":"0.0156","v":0.217},{"p":"lofreq","t":"merged replicates","c":"0","f":"0.0313","v":0.217},{"p":"lofreq","t":"merged replicates","c":"0","f":"0.0625","v":0.255},{"p":"lofreq","t":"merged replicates","c":"0","f":"0.125","v":0.217},{"p":"lofreq","t":"merged replicates","c":"0","f":"0.25","v":0.217},{"p":"lofreq","t":"merged replicates","c":"0","f":"0.5","v":0.217},

{"p":"timo","t":"timo","c":"0","f":"0.0039","v":0.325},{"p":"timo","t":"timo","c":"0","f":"0.0078","v":0.152},{"p":"timo","t":"timo","c":"0","f":"0.0156","v":0.065},{"p":"timo","t":"timo","c":"0","f":"0.0313","v":0.065},{"p":"timo","t":"timo","c":"0","f":"0.0625","v":0.065},{"p":"timo","t":"timo","c":"0","f":"0.125","v":0.065},{"p":"timo","t":"timo","c":"0","f":"0.25","v":0.065},{"p":"timo","t":"timo","c":"0","f":"0.5","v":0.065},
{"p":"timo","t":"timo","c":"0.01","f":"0.0039","v":0.392},{"p":"timo","t":"timo","c":"0.01","f":"0.0078","v":0.152},{"p":"timo","t":"timo","c":"0.01","f":"0.0156","v":0.065},{"p":"timo","t":"timo","c":"0.01","f":"0.0313","v":0.065},{"p":"timo","t":"timo","c":"0.01","f":"0.0625","v":0.065},{"p":"timo","t":"timo","c":"0.01","f":"0.125","v":0.065},{"p":"timo","t":"timo","c":"0.01","f":"0.25","v":0.065},{"p":"timo","t":"timo","c":"0.01","f":"0.5","v":0.065},
{"p":"timo","t":"timo","c":"0.02","f":"0.0039","v":0.695},{"p":"timo","t":"timo","c":"0.02","f":"0.0078","v":0.653},{"p":"timo","t":"timo","c":"0.02","f":"0.0156","v":0.174},{"p":"timo","t":"timo","c":"0.02","f":"0.0313","v":0.065},{"p":"timo","t":"timo","c":"0.02","f":"0.0625","v":0.065},{"p":"timo","t":"timo","c":"0.02","f":"0.125","v":0.065},{"p":"timo","t":"timo","c":"0.02","f":"0.25","v":0.065},{"p":"timo","t":"timo","c":"0.02","f":"0.5","v":0.065},
{"p":"timo","t":"timo","c":"0.03","f":"0.0039","v":0.762},{"p":"timo","t":"timo","c":"0.03","f":"0.0078","v":0.717},{"p":"timo","t":"timo","c":"0.03","f":"0.0156","v":0.457},{"p":"timo","t":"timo","c":"0.03","f":"0.0313","v":0.065},{"p":"timo","t":"timo","c":"0.03","f":"0.0625","v":0.065},{"p":"timo","t":"timo","c":"0.03","f":"0.125","v":0.065},{"p":"timo","t":"timo","c":"0.03","f":"0.25","v":0.065},{"p":"timo","t":"timo","c":"0.03","f":"0.5","v":0.065},
{"p":"timo","t":"merged replicates","c":"0","f":"0.0039","v":0.527},{"p":"timo","t":"merged replicates","c":"0","f":"0.0078","v":0.205},{"p":"timo","t":"merged replicates","c":"0","f":"0.0156","v":0.065},{"p":"timo","t":"merged replicates","c":"0","f":"0.0313","v":0.065},{"p":"timo","t":"merged replicates","c":"0","f":"0.0625","v":0.065},{"p":"timo","t":"merged replicates","c":"0","f":"0.125","v":0.065},{"p":"timo","t":"merged replicates","c":"0","f":"0.25","v":0.042},{"p":"timo","t":"merged replicates","c":"0","f":"0.5","v":0.02},

{"p":"varscan","t":"varscan","c":"0","f":"0.0039","v":0.566},{"p":"varscan","t":"varscan","c":"0","f":"0.0078","v":0.24},{"p":"varscan","t":"varscan","c":"0","f":"0.0156","v":0.065},{"p":"varscan","t":"varscan","c":"0","f":"0.0313","v":0.065},{"p":"varscan","t":"varscan","c":"0","f":"0.0625","v":0.065},{"p":"varscan","t":"varscan","c":"0","f":"0.125","v":0.065},{"p":"varscan","t":"varscan","c":"0","f":"0.25","v":0.065},{"p":"varscan","t":"varscan","c":"0","f":"0.5","v":0.065},
{"p":"varscan","t":"varscan","c":"0.01","f":"0.0039","v":0.566},{"p":"varscan","t":"varscan","c":"0.01","f":"0.0078","v":0.24},{"p":"varscan","t":"varscan","c":"0.01","f":"0.0156","v":0.065},{"p":"varscan","t":"varscan","c":"0.01","f":"0.0313","v":0.065},{"p":"varscan","t":"varscan","c":"0.01","f":"0.0625","v":0.065},{"p":"varscan","t":"varscan","c":"0.01","f":"0.125","v":0.065},{"p":"varscan","t":"varscan","c":"0.01","f":"0.25","v":0.065},{"p":"varscan","t":"varscan","c":"0.01","f":"0.5","v":0.065},
{"p":"varscan","t":"varscan","c":"0.02","f":"0.0039","v":0.739},{"p":"varscan","t":"varscan","c":"0.02","f":"0.0078","v":0.695},{"p":"varscan","t":"varscan","c":"0.02","f":"0.0156","v":0.217},{"p":"varscan","t":"varscan","c":"0.02","f":"0.0313","v":0.065},{"p":"varscan","t":"varscan","c":"0.02","f":"0.0625","v":0.065},{"p":"varscan","t":"varscan","c":"0.02","f":"0.125","v":0.065},{"p":"varscan","t":"varscan","c":"0.02","f":"0.25","v":0.065},{"p":"varscan","t":"varscan","c":"0.02","f":"0.5","v":0.065},
{"p":"varscan","t":"varscan","c":"0.03","f":"0.0039","v":0.805},{"p":"varscan","t":"varscan","c":"0.03","f":"0.0078","v":0.783},{"p":"varscan","t":"varscan","c":"0.03","f":"0.0156","v":0.521},{"p":"varscan","t":"varscan","c":"0.03","f":"0.0313","v":0.065},{"p":"varscan","t":"varscan","c":"0.03","f":"0.0625","v":0.065},{"p":"varscan","t":"varscan","c":"0.03","f":"0.125","v":0.065},{"p":"varscan","t":"varscan","c":"0.03","f":"0.25","v":0.065},{"p":"varscan","t":"varscan","c":"0.03","f":"0.5","v":0.065},
{"p":"varscan","t":"merged replicates","c":"0","f":"0.0039","v":0.712},{"p":"varscan","t":"merged replicates","c":"0","f":"0.0078","v":0.346},{"p":"varscan","t":"merged replicates","c":"0","f":"0.0156","v":0.065},{"p":"varscan","t":"merged replicates","c":"0","f":"0.0313","v":0.065},{"p":"varscan","t":"merged replicates","c":"0","f":"0.0625","v":0.065},{"p":"varscan","t":"merged replicates","c":"0","f":"0.125","v":0.065},{"p":"varscan","t":"merged replicates","c":"0","f":"0.25","v":0.042},{"p":"varscan","t":"merged replicates","c":"0","f":"0.5","v":0.042}
]
},
"vconcat": [
{
  "data": {"name": "fdr"},
  "facet": {"column": {"field": "p", "type": "nominal", "sort": ["freebayes","hc","iVar","mutect2","lofreq","timo","varscan"], "header": {"title": "expected frequency", "titleOrient": "bottom", "labelOrient": "top", "titlePadding": 5, "labelFontSize": 19, "labelPadding": 2}}},
  "spacing": 9,
  "spec": {
    "width": 170, "height": 285,
    "encoding": {
      "x": {"field": "f", "type": "ordinal", "sort": ["0.0039","0.0078","0.0156","0.0313","0.0625","0.125","0.25","0.5"], "scale": {"type": "point", "padding": 0.6}, "axis": {"title": null, "labelAngle": 270, "labelPadding": 3}},
      "y": {"field": "v", "type": "quantitative", "scale": {"domain": [-0.029, 0.604], "nice": false, "zero": false}, "axis": {"title": "FDR - Synthetic Data", "values": [0,0.1,0.2,0.3,0.4,0.5,0.6], "format": ".2f", "labelExpr": "round(datum.value*10) % 2 == 1 ? '' : datum.label", "tickOpacity": {"condition": {"test": "round(datum.value*10) % 2 == 1", "value": 0}, "value": 1}, "titlePadding": 12}},
      "color": {"field": "t", "type": "nominal", "scale": {"domain": ["freebayes","hc","ivar","lofreq","mutect2","timo","varscan","merged replicates"], "range": ["#d42a40","#33b6e8","#16a070","#f8bfd0","#f0e43f","#8e9fd6","#9e9e9e","#111111"]}, "legend": {"title": "tool", "orient": "none", "legendX": 1272, "legendY": 108, "titlePadding": 12, "symbolType": "circle", "symbolSize": 560, "symbolStrokeWidth": 0, "rowPadding": 15, "labelOffset": 8, "labelExpr": "datum.label == 'merged replicates' ? ['merged', 'replicates'] : datum.label"}},
      "strokeDash": {"field": "c", "type": "nominal", "scale": {"domain": ["0","0.01","0.02","0.03"], "range": [[1,0],[2,3],[6,4],[9,9]]}, "legend": {"title": ["allele","frequency","cutoff"], "orient": "none", "legendX": 1296, "legendY": 488, "symbolType": "M-2.6,0H2.6", "symbolSize": 441, "symbolStrokeWidth": 2.2, "symbolStrokeColor": "#111111", "rowPadding": 2, "labelOffset": 25, "titlePadding": 13}}
    },
    "layer": [
      {"transform": [{"filter": "datum.t != 'merged replicates'"}], "mark": {"type": "line", "strokeWidth": 1.6, "opacity": 0.85}},
      {"transform": [{"filter": "datum.t != 'merged replicates'"}], "mark": {"type": "point", "filled": true, "size": 50, "opacity": 1}, "encoding": {"strokeDash": {"value": [1,0]}}},
      {"transform": [{"filter": "datum.t == 'merged replicates'"}], "mark": {"type": "line", "strokeWidth": 1.6, "opacity": 0.85}},
      {"transform": [{"filter": "datum.t == 'merged replicates'"}], "mark": {"type": "point", "filled": true, "size": 50, "opacity": 1}, "encoding": {"strokeDash": {"value": [1,0]}}}
    ]
  }
},
{
  "data": {"name": "fnr"},
  "facet": {"column": {"field": "p", "type": "nominal", "sort": ["freebayes","hc","iVar","mutect2","lofreq","timo","varscan"], "header": {"title": "expected frequency", "titleOrient": "bottom", "labels": false, "titlePadding": 5}}},
  "spacing": 9,
  "spec": {
    "width": 170, "height": 296,
    "encoding": {
      "x": {"field": "f", "type": "ordinal", "sort": ["0.0039","0.0078","0.0156","0.0313","0.0625","0.125","0.25","0.5"], "scale": {"type": "point", "padding": 0.6}, "axis": {"title": null, "labelAngle": 270, "labelPadding": 3}},
      "y": {"field": "v", "type": "quantitative", "scale": {"domain": [-0.035, 0.848], "nice": false, "zero": false}, "axis": {"title": "FNR - Synthetic Data", "values": [0,0.1,0.2,0.3,0.4,0.5,0.6,0.7,0.8], "format": ".2f", "labelExpr": "round(datum.value*10) % 2 == 1 ? '' : datum.label", "tickOpacity": {"condition": {"test": "round(datum.value*10) % 2 == 1", "value": 0}, "value": 1}, "titlePadding": 12}},
      "color": {"field": "t", "type": "nominal", "scale": {"domain": ["freebayes","hc","ivar","lofreq","mutect2","timo","varscan","merged replicates"], "range": ["#d42a40","#33b6e8","#16a070","#f8bfd0","#f0e43f","#8e9fd6","#9e9e9e","#111111"]}, "legend": null},
      "strokeDash": {"field": "c", "type": "nominal", "scale": {"domain": ["0","0.01","0.02","0.03"], "range": [[1,0],[2,3],[6,4],[9,9]]}, "legend": null}
    },
    "layer": [
      {"transform": [{"filter": "datum.t != 'merged replicates'"}], "mark": {"type": "line", "strokeWidth": 1.6, "opacity": 0.85}},
      {"transform": [{"filter": "datum.t != 'merged replicates'"}], "mark": {"type": "point", "filled": true, "size": 50, "opacity": 1}, "encoding": {"strokeDash": {"value": [1,0]}}},
      {"transform": [{"filter": "datum.t == 'merged replicates'"}], "mark": {"type": "line", "strokeWidth": 1.6, "opacity": 0.85}},
      {"transform": [{"filter": "datum.t == 'merged replicates'"}], "mark": {"type": "point", "filled": true, "size": 50, "opacity": 1}, "encoding": {"strokeDash": {"value": [1,0]}}}
    ]
  }
}
],
"spacing": 20,
"resolve": {"scale": {"color": "shared", "strokeDash": "shared"}}
}
